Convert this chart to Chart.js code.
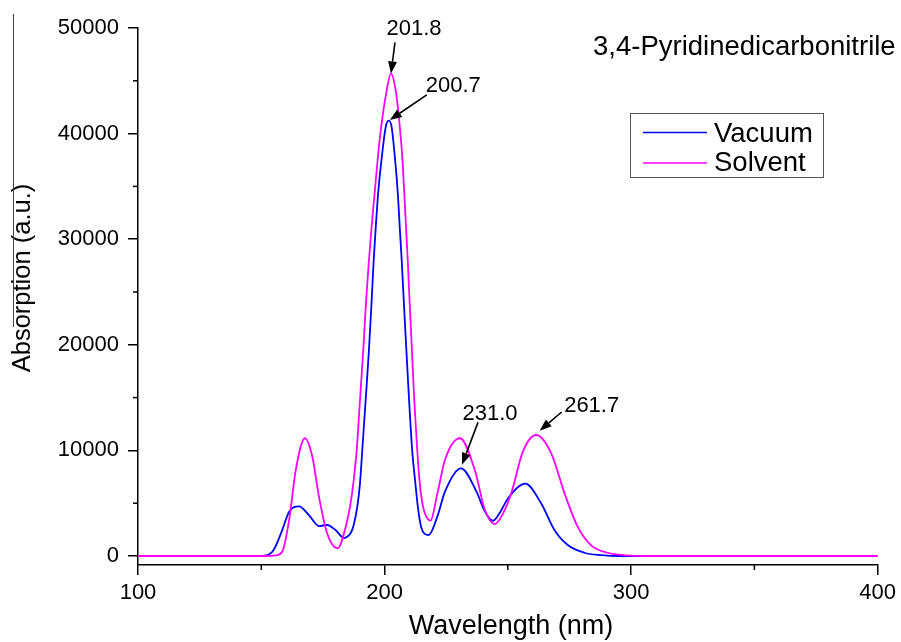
<!DOCTYPE html>
<html><head><meta charset="utf-8">
<script src="https://cdn.jsdelivr.net/npm/chart.js@4/dist/chart.umd.min.js"></script>
<style>html,body{margin:0;padding:0;background:#fff}#wrap{width:901px;height:642px;position:relative}</style>
</head><body><div id="wrap"><canvas id="c" width="901" height="642"></canvas></div>
<script>
// ---- data ----
const wavelengthVacuum = [100,148,152,155,158.5,161.3,165.3,169.3,173.4,176.7,180.1,183.6,185.0,186.2,187.3,188.95,190.04,190.97,192.34,193.67,194.7,195.6,196.45,197.4,198.75,200.5,201.7,202.84,204.29,205.38,206.15,206.95,207.85,208.85,209.95,211.2,212.5,213.5,214.8,216.3,217.9,221.5,224.5,231.0,237.3,240.5,244.0,247.0,250.1,257.1,263.5,268.9,274.3,281,288,295,400];
const absorptionVacuum = [0,0,60,570,2460,4200,4700,3880,2840,2940,2460,1700,1850,2150,2780,4670,6886,10039,14774,19508,23900,28030,31183,34346,37500,40652,41220,40652,37500,34346,31183,28030,23900,19508,14774,10039,6886,4670,2777,2100,1991,3800,6090,8300,6090,4300,3340,4200,5470,6850,4990,2460,1040,310,80,0,0];
const wavelengthSolvent = [100,152,155.9,158.5,161.3,164,167.7,170.7,173.4,176.7,181.0,184.27,186.0,187.33,188.71,190.04,191.37,192.45,193.67,194.76,195.97,197.19,198.64,200.66,202.6,204.7,206.19,207.28,208.0,208.7,209.4,210.2,211.1,212.05,213.25,214.3,215.6,217.0,218.6,221.5,224.5,230.6,236.6,240.7,244.7,248,251.4,256.1,261.5,267.6,273,278.3,283.7,290.5,298.6,305,400];
const absorptionSolvent = [0,0,60,400,3410,8150,11150,9400,5620,2150,730,2777,4670,6886,10039,14774,19508,23900,28030,31183,34346,37500,40652,43815,45700,43815,40652,37500,34346,31183,28030,23900,19508,14774,10039,6886,4670,3700,3345,6000,9100,11150,8150,4360,3030,4000,5940,9880,11460,9730,5940,2780,1040,310,60,0,0];
const seriesNames = ['Vacuum','Solvent'];
const xMajorTicks = [100,200,300,400];
const xMinorTicks = [150,250,350];
const yMajorTicks = [0,10000,20000,30000,40000,50000];
const yMinorTicks = [5000,15000,25000,35000,45000];
const peakLabels = ['201.8','200.7','231.0','261.7'];
const peakWavelengths = [201.8,200.7,231.0,261.7];
const peakValues = [45700,41200,8300,11460];
const chartTitle = '3,4-Pyridinedicarbonitrile';
const xTitle = 'Wavelength (nm)';
const yTitle = 'Absorption (a.u.)';

// ---- styling ----
const FONT = '"Liberation Sans", Arial, sans-serif';
const COLORS = ['#0000ff','#ff00ff'];
// per annotation: tip offset, tail offset, label offset (px, relative to the data point), label align
const annStyle = [
  {tip:[2,0], tail:[6,-31], lab:[25,-44], align:'center'},
  {tip:[3.5,-1], tail:[40.5,-26], lab:[39.5,-35], align:'left'},
  {tip:[1,-3.5], tail:[17,-46], lab:[29,-54], align:'center'},
  {tip:[3,-4.3], tail:[25,-23], lab:[55,-29.5], align:'center'}
];

function arrow(ctx, x1, y1, x2, y2){
  const ang = Math.atan2(y2-y1, x2-x1), L = 12, W = 4.5;
  const bx = x2 - L*Math.cos(ang), by = y2 - L*Math.sin(ang);
  ctx.beginPath(); ctx.moveTo(x1,y1); ctx.lineTo(bx,by); ctx.stroke();
  ctx.beginPath();
  ctx.moveTo(x2,y2);
  ctx.lineTo(bx + W*Math.sin(ang), by - W*Math.cos(ang));
  ctx.lineTo(bx - W*Math.sin(ang), by + W*Math.cos(ang));
  ctx.closePath(); ctx.fill();
}

const overlay = {
  id:'overlay',
  afterDraw(chart){
    const ctx = chart.ctx, xs = chart.scales.x, ys = chart.scales.y, a = chart.chartArea;
    ctx.save();
    ctx.strokeStyle = '#000'; ctx.fillStyle = '#000'; ctx.lineWidth = 1.5;
    // minor ticks
    xMinorTicks.forEach(v=>{const p = xs.getPixelForValue(v); ctx.beginPath(); ctx.moveTo(p,a.bottom); ctx.lineTo(p,a.bottom+5); ctx.stroke();});
    yMinorTicks.forEach(v=>{const p = ys.getPixelForValue(v); ctx.beginPath(); ctx.moveTo(a.left,p); ctx.lineTo(a.left-5,p); ctx.stroke();});
    // axis titles
    ctx.textBaseline = 'middle'; ctx.textAlign = 'center';
    ctx.font = '27px ' + FONT;
    ctx.fillText(xTitle, 511, 627);
    ctx.save(); ctx.translate(23, 278); ctx.rotate(-Math.PI/2);
    ctx.font = '25.5px ' + FONT; ctx.fillText(yTitle, 0, 0); ctx.restore();
    // thin vertical line at far left (as in reference)
    ctx.lineWidth = 1; ctx.strokeStyle = '#444';
    ctx.beginPath(); ctx.moveTo(13.5,14); ctx.lineTo(13.5,327); ctx.stroke();
    // chart title
    ctx.fillStyle = '#000'; ctx.textAlign = 'left'; ctx.textBaseline = 'alphabetic';
    ctx.font = '27.5px ' + FONT;
    ctx.fillText(chartTitle, 593, 55);
    // annotations
    ctx.strokeStyle = '#000'; ctx.lineWidth = 1.6;
    ctx.font = '22px ' + FONT; ctx.textBaseline = 'middle';
    peakLabels.forEach((t,i)=>{
      const s = annStyle[i];
      const px = xs.getPixelForValue(peakWavelengths[i]);
      const py = ys.getPixelForValue(peakValues[i]);
      arrow(ctx, px+s.tail[0], py+s.tail[1], px+s.tip[0], py+s.tip[1]);
      ctx.textAlign = s.align;
      ctx.fillText(t, px+s.lab[0], py+s.lab[1]);
    });
    // legend
    const lx = 630, ly = 113, lw = 193, lh = 64;
    ctx.lineWidth = 1; ctx.strokeStyle = '#555';
    ctx.strokeRect(lx+0.5, ly+0.5, lw, lh);
    ctx.font = '27.5px ' + FONT; ctx.textAlign = 'left'; ctx.textBaseline = 'alphabetic';
    const rows = [[132.5,141.5],[163,170.5]];
    chart.data.datasets.slice().sort((p,q)=>seriesNames.indexOf(p.label)-seriesNames.indexOf(q.label)).forEach((ds,i)=>{
      ctx.strokeStyle = ds.borderColor; ctx.lineWidth = 1.6;
      ctx.beginPath(); ctx.moveTo(643, rows[i][0]); ctx.lineTo(707, rows[i][0]); ctx.stroke();
      ctx.fillStyle = '#000';
      ctx.fillText(ds.label, 714, rows[i][1]);
    });
    ctx.restore();
  }
};

const mk = (xs, ys) => xs.map((x,i)=>({x:x, y:ys[i]}));
const axisCommon = {
  grid:{drawOnChartArea:false, drawTicks:true, tickLength:10, color:'#000', lineWidth:1.5},
  border:{display:true, color:'#000', width:1.5},
};
new Chart(document.getElementById('c'), {
  type:'line',
  data:{datasets:[
    {label:seriesNames[1], data:mk(wavelengthSolvent, absorptionSolvent), borderColor:COLORS[1], borderWidth:1.8, pointRadius:0, fill:false, cubicInterpolationMode:'monotone'},
    {label:seriesNames[0], data:mk(wavelengthVacuum, absorptionVacuum), borderColor:COLORS[0], borderWidth:1.8, pointRadius:0, fill:false, cubicInterpolationMode:'monotone'}
  ]},
  options:{
    responsive:false, animation:false, devicePixelRatio:1, events:[],
    layout:{padding:{top:28, right:20, left:0, bottom:0}},
    plugins:{legend:{display:false}, tooltip:{enabled:false}, title:{display:false}},
    scales:{
      x:Object.assign({}, axisCommon, {
        type:'linear', min:100, max:400,
        afterBuildTicks:s=>{s.ticks = xMajorTicks.map(v=>({value:v}));},
        afterFit:s=>{s.height = 77;},
        ticks:{color:'#000', font:{family:FONT, size:22}, padding:5, maxRotation:0, autoSkip:false, callback:v=>String(v)}
      }),
      y:Object.assign({}, axisCommon, {
        type:'linear', min:-850, max:50000,
        afterBuildTicks:s=>{s.ticks = yMajorTicks.map(v=>({value:v}));},
        afterFit:s=>{s.width = 138;},
        ticks:{color:'#000', font:{family:FONT, size:22}, padding:9, autoSkip:false, callback:v=>String(v)}
      })
    }
  },
  plugins:[overlay]
});
</script></body></html>
